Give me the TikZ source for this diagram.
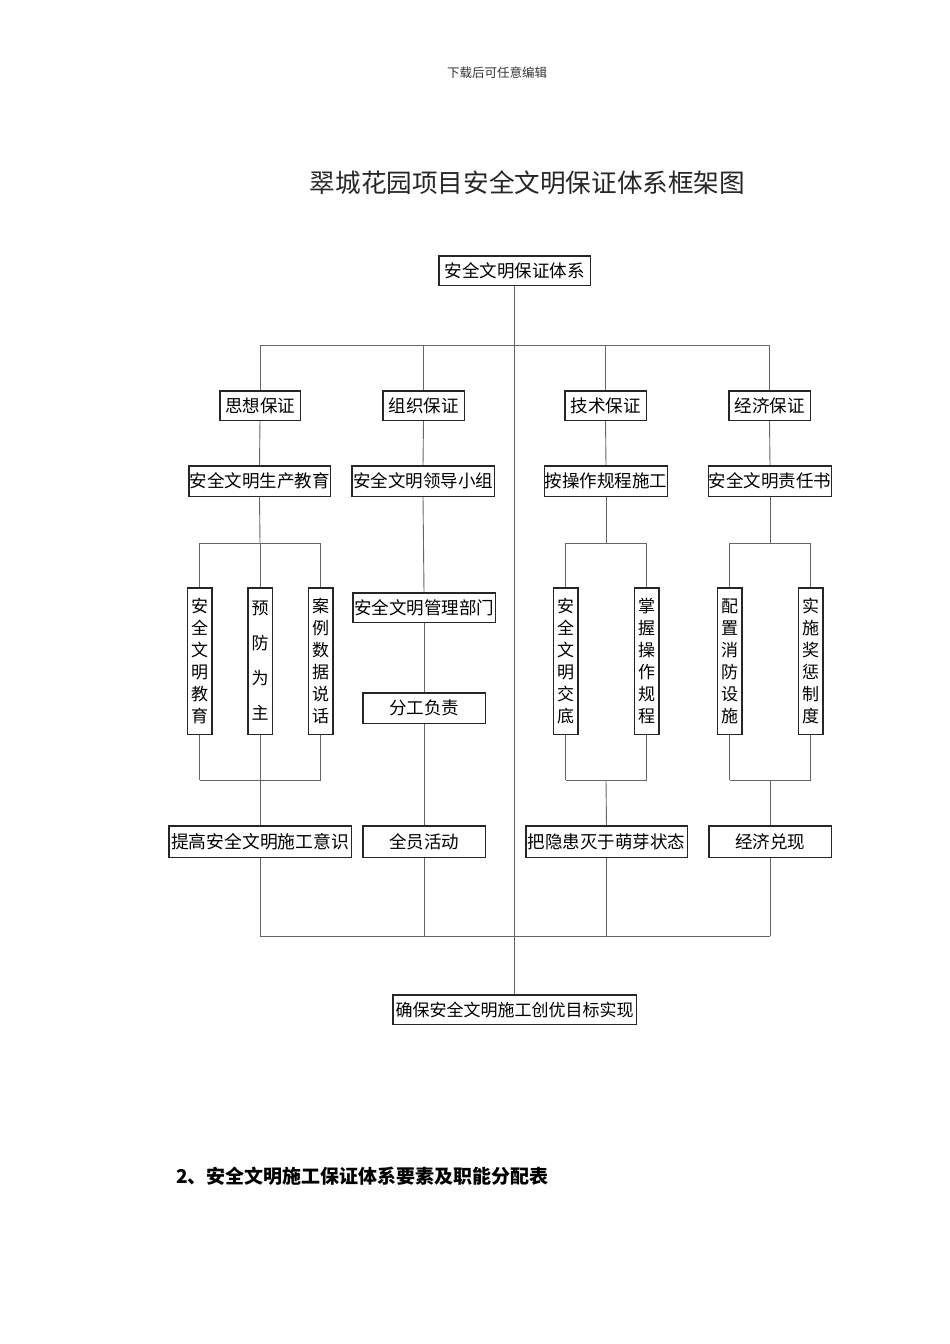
\documentclass[tikz,border=0pt]{standalone}
\usepackage{fontspec}
\setmainfont{Noto Sans CJK SC}
\begin{document}
\begin{tikzpicture}[x=1pt,y=-1pt,
  conn/.style={draw=black!60,line width=0.9pt},
  hbox/.style={draw=black!85,line width=0.9pt,fill=white,rectangle,inner sep=0pt,
    font=\fontsize{17.5}{20}\selectfont},
  vbox/.style={draw=black!85,line width=0.9pt,fill=white,rectangle,inner sep=0pt,
    minimum width=24pt,minimum height=146pt,align=center,
    font=\fontsize{17}{22}\selectfont},
  vboxw/.style={vbox,font=\fontsize{17}{35}\selectfont}
]
\useasboundingbox (0,0) rectangle (950,1344);
\fill[white] (0,0) rectangle (950,1344);

% header and title
\node[font=\fontsize{12.5}{14}\selectfont,text=black!80] (hdr) at (497,73) {下载后可任意编辑};
\node[font=\fontsize{25.6}{28}\selectfont,text=black!85] (title) at (527.5,183) {翠城花园项目安全文明保证体系框架图};

% top
\node[hbox,minimum width=151pt,minimum height=29pt] (top) at (514.5,270.5) {安全文明保证体系};

% level 2
\node[hbox,minimum width=80pt,minimum height=29pt] (a2) at (260,405.5) {思想保证};
\node[hbox,minimum width=81pt,minimum height=29pt] (b2) at (423.5,405.5) {组织保证};
\node[hbox,minimum width=81pt,minimum height=29pt] (c2) at (605.5,405.5) {技术保证};
\node[hbox,minimum width=81pt,minimum height=29pt] (d2) at (769.5,405.5) {经济保证};

% level 3
\node[hbox,minimum width=141pt,minimum height=30pt] (a3) at (259.5,481) {安全文明生产教育};
\node[hbox,minimum width=142pt,minimum height=30pt] (b3) at (423,481) {安全文明领导小组};
\node[hbox,minimum width=122pt,minimum height=30pt] (c3) at (606,481) {按操作规程施工};
\node[hbox,minimum width=122pt,minimum height=30pt] (d3) at (770,481) {安全文明责任书};

% vertical boxes
\node[vbox] (a41) at (199.5,661) {安\\全\\文\\明\\教\\育};
\node[vboxw] (a42) at (260,661) {预\\防\\为\\主};
\node[vbox] (a43) at (320.5,661) {案\\例\\数\\据\\说\\话};
\node[vbox] (c41) at (565.5,661) {安\\全\\文\\明\\交\\底};
\node[vbox] (c42) at (646.5,661) {掌\\握\\操\\作\\规\\程};
\node[vbox] (d41) at (729.5,661) {配\\置\\消\\防\\设\\施};
\node[vbox] (d42) at (810.5,661) {实\\施\\奖\\惩\\制\\度};

% column 2 middle
\node[hbox,minimum width=142pt,minimum height=29pt] (b4) at (424,607.5) {安全文明管理部门};
\node[hbox,minimum width=122pt,minimum height=30pt] (b5) at (424,708) {分工负责};

% level 5
\node[hbox,minimum width=182pt,minimum height=31pt,font=\fontsize{17.8}{20}\selectfont] (a6) at (260,841.5) {提高安全文明施工意识};
\node[hbox,minimum width=122pt,minimum height=31pt] (b6) at (424,841.5) {全员活动};
\node[hbox,minimum width=161pt,minimum height=31pt] (c6) at (606.5,841.5) {把隐患灭于萌芽状态};
\node[hbox,minimum width=122pt,minimum height=31pt] (d6) at (770,841.5) {经济兑现};

% bottom
\node[hbox,minimum width=243pt,minimum height=29pt,font=\fontsize{17}{20}\selectfont] (bot) at (514.5,1009.5) {确保安全文明施工创优目标实现};

% section heading
\node[anchor=west,font=\fontsize{19}{21}\selectfont\bfseries,inner sep=0pt] (sec) at (176,1176) {2、安全文明施工保证体系要素及职能分配表};

% junction coordinates
\coordinate (barL) at (260,345);
\coordinate (barR) at (770,345);
\coordinate (botL) at (260,936);
\coordinate (botR) at (770,936);
\coordinate (aT) at (260,543);
\coordinate (aB) at (260,780);
\coordinate (cT) at (606,543);
\coordinate (cB) at (606,780);
\coordinate (dT) at (770,543);
\coordinate (dB) at (770,780);

% connectors
\draw[conn] (top.south) -- (bot.north);
\draw[conn] (barL) -- (barR);
\draw[conn] (botL) -- (botR);
\foreach \n in {a2,b2,c2,d2} \draw[conn] (\n.north) -- (\n.north |- barL);
\foreach \n in {a6,b6,c6,d6} \draw[conn] (\n.south) -- (\n.south |- botL);
\draw[conn] (a2.south) -- (a3.north);
\draw[conn] (b2.south) -- (b3.north);
\draw[conn] (c2.south) -- (c3.north);
\draw[conn] (d2.south) -- (d3.north);

% left group
\draw[conn] (a3.south) -- (aT);
\draw[conn] (a41.north |- aT) -- (a43.north |- aT);
\draw[conn] (a41.north) -- (a41.north |- aT);
\draw[conn] (a42.north) -- (a42.north |- aT);
\draw[conn] (a43.north) -- (a43.north |- aT);
\draw[conn] (a41.south) -- (a41.south |- aB);
\draw[conn] (a42.south) -- (a6.north);
\draw[conn] (a43.south) -- (a43.south |- aB);
\draw[conn] (a41.south |- aB) -- (a43.south |- aB);

% column 2
\draw[conn] (b3.south) -- (b4.north);
\draw[conn] (b4.south) -- (b5.north);
\draw[conn] (b5.south) -- (b6.north);

% column 3
\draw[conn] (c3.south) -- (cT);
\draw[conn] (c41.north |- cT) -- (c42.north |- cT);
\draw[conn] (c41.north) -- (c41.north |- cT);
\draw[conn] (c42.north) -- (c42.north |- cT);
\draw[conn] (c41.south) -- (c41.south |- cB);
\draw[conn] (c42.south) -- (c42.south |- cB);
\draw[conn] (c41.south |- cB) -- (c42.south |- cB);
\draw[conn] (cB) -- (c6.north);

% column 4
\draw[conn] (d3.south) -- (dT);
\draw[conn] (d41.north |- dT) -- (d42.north |- dT);
\draw[conn] (d41.north) -- (d41.north |- dT);
\draw[conn] (d42.north) -- (d42.north |- dT);
\draw[conn] (d41.south) -- (d41.south |- dB);
\draw[conn] (d42.south) -- (d42.south |- dB);
\draw[conn] (d41.south |- dB) -- (d42.south |- dB);
\draw[conn] (dB) -- (d6.north);

% redraw box outlines on top of connectors
\foreach \n in {top,bot,a2,b2,c2,d2,a3,b3,c3,d3,b4,b5,a6,b6,c6,d6,a41,a42,a43,c41,c42,d41,d42}
  \draw[draw=black!85,line width=0.9pt] (\n.north west) rectangle (\n.south east);
\end{tikzpicture}
\end{document}
